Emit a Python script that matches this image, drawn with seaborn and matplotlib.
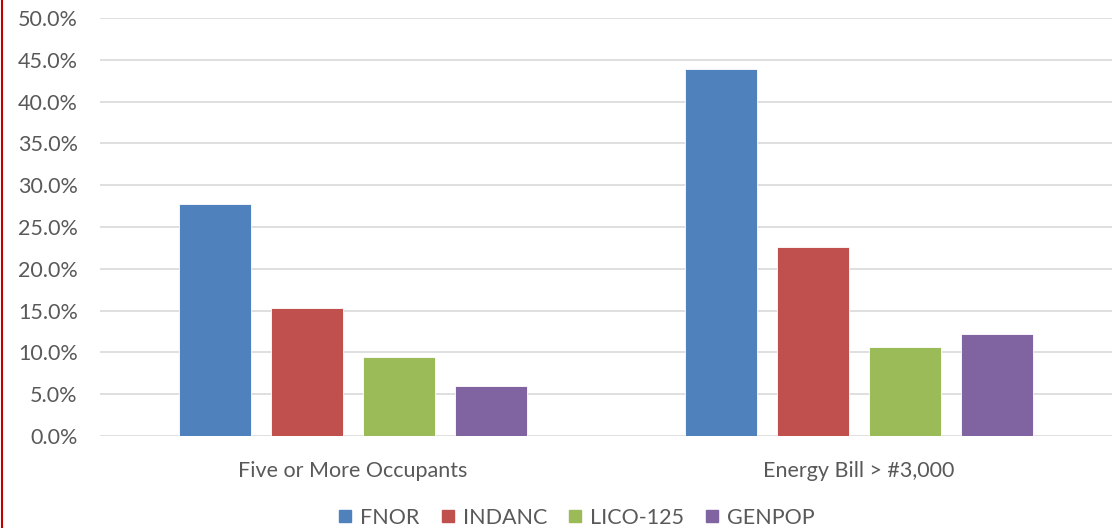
import matplotlib
matplotlib.use("Agg")
import matplotlib.pyplot as plt
import matplotlib.ticker as mticker
from matplotlib.lines import Line2D
import pandas as pd
import seaborn as sns

categories = ["Five or More Occupants", "Energy Bill > #3,000"]
series = ["FNOR", "INDANC", "LICO-125", "GENPOP"]
fnor = [0.278, 0.439]
indanc = [0.153, 0.226]
lico_125 = [0.095, 0.106]
genpop = [0.060, 0.122]
colors = ["#4F81BD", "#C0504D", "#9BBB59", "#8064A2"]

rows = []
for name, vals in zip(series, [fnor, indanc, lico_125, genpop]):
    for cat, v in zip(categories, vals):
        rows.append({"category": cat, "series": name, "value": v})
df = pd.DataFrame(rows)

sns.set_theme(style="white")
plt.rcParams["font.family"] = ["Lato", "DejaVu Sans"]
text_color = "#595959"

fig = plt.figure(figsize=(11.2, 5.28), dpi=100)
ax = fig.add_axes([100 / 1120, 1 - 436 / 528, 1012 / 1120, 418 / 528])

sns.barplot(data=df, x="category", y="value", hue="series", order=categories,
            hue_order=series, palette=colors, saturation=1, width=0.727, gap=0.22,
            edgecolor="white", linewidth=0.6, ax=ax, legend=False, zorder=3)

ax.set_ylim(0, 0.5)
ax.set_xlim(-0.5, 1.5)
ax.yaxis.set_major_locator(mticker.MultipleLocator(0.05))
ax.yaxis.set_major_formatter(mticker.PercentFormatter(1.0, decimals=1))
ax.grid(axis="y", color="#D9D9D9", linewidth=1.2, zorder=0)
ax.set_axisbelow(True)
for s in ax.spines.values():
    s.set_visible(False)
ax.set_xlabel("")
ax.set_ylabel("")
ax.tick_params(axis="both", length=0, labelsize=15.5, colors=text_color)
ax.tick_params(axis="y", pad=16)
ax.tick_params(axis="x", pad=18)

handles = [Line2D([0], [0], marker="s", linestyle="none", markersize=8,
                  markerfacecolor=c, markeredgecolor=c) for c in colors]
fig.legend(handles, series, loc="lower center", bbox_to_anchor=(0.514, -0.036),
           ncol=4, frameon=False, fontsize=15.5, handlelength=0.8,
           handletextpad=0.3, columnspacing=0.9, labelcolor=text_color)

# thin red frame line along the left edge
fig.add_artist(Line2D([0.0015, 0.0015], [0, 1], transform=fig.transFigure,
                      color="#C00000", linewidth=1.5))

fig.savefig("out.png", dpi=100, facecolor="white")
